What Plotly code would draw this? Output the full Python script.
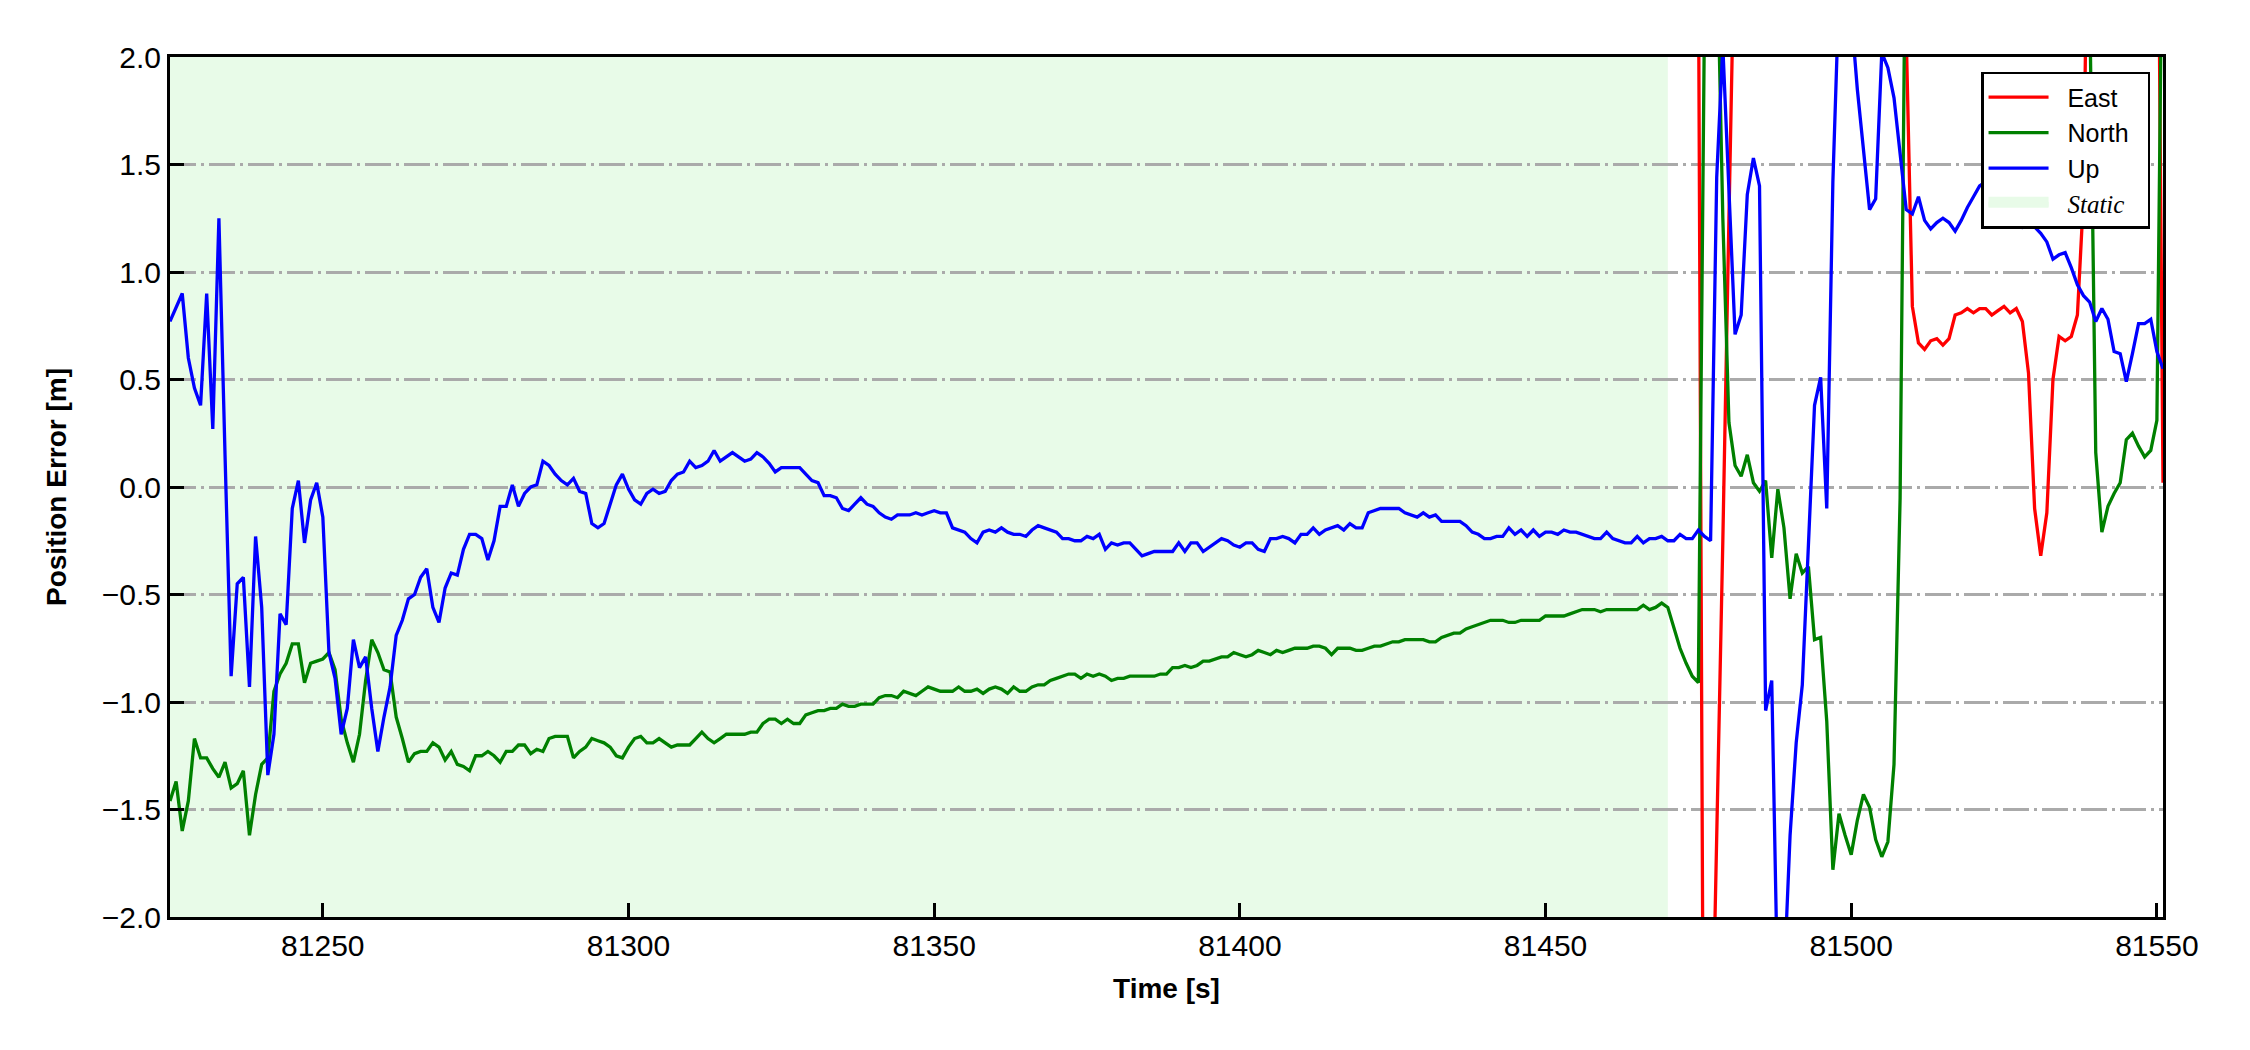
import plotly.graph_objects as go

# ---------------- data ----------------
t_start = 81225  # first epoch of North/Up series (1 s sampling)

up_err = [
    0.77, 0.84, 0.90, 0.60, 0.46, 0.38, 0.90, 0.27, 1.25, 0.15,
    -0.88, -0.45, -0.42, -0.93, -0.23, -0.56, -1.34, -1.15, -0.59, -0.64,
    -0.10, 0.03, -0.26, -0.06, 0.02, -0.14, -0.77, -0.89, -1.15, -1.03,
    -0.71, -0.84, -0.79, -1.03, -1.23, -1.07, -0.93, -0.69, -0.62, -0.52,
    -0.50, -0.42, -0.38, -0.56, -0.63, -0.47, -0.40, -0.41, -0.29, -0.22,
    -0.22, -0.24, -0.34, -0.25, -0.09, -0.09, 0.01, -0.09, -0.03, 0.00,
    0.01, 0.12, 0.10, 0.06, 0.03, 0.01, 0.04, -0.02, -0.03, -0.17,
    -0.19, -0.17, -0.08, 0.01, 0.06, -0.01, -0.06, -0.08, -0.03, -0.01,
    -0.03, -0.02, 0.03, 0.06, 0.07, 0.12, 0.09, 0.10, 0.12, 0.17,
    0.12, 0.14, 0.16, 0.14, 0.12, 0.13, 0.16, 0.14, 0.11, 0.07,
    0.09, 0.09, 0.09, 0.09, 0.06, 0.03, 0.02, -0.04, -0.04, -0.05,
    -0.10, -0.11, -0.08, -0.05, -0.08, -0.09, -0.12, -0.14, -0.15, -0.13,
    -0.13, -0.13, -0.12, -0.13, -0.12, -0.11, -0.12, -0.12, -0.19, -0.20,
    -0.21, -0.24, -0.26, -0.21, -0.20, -0.21, -0.19, -0.21, -0.22, -0.22,
    -0.23, -0.20, -0.18, -0.19, -0.20, -0.21, -0.24, -0.24, -0.25, -0.25,
    -0.23, -0.24, -0.22, -0.29, -0.26, -0.27, -0.26, -0.26, -0.29, -0.32,
    -0.31, -0.30, -0.30, -0.30, -0.30, -0.26, -0.30, -0.26, -0.26, -0.30,
    -0.28, -0.26, -0.24, -0.25, -0.27, -0.28, -0.26, -0.26, -0.29, -0.30,
    -0.24, -0.24, -0.23, -0.24, -0.26, -0.22, -0.22, -0.19, -0.22, -0.20,
    -0.19, -0.18, -0.20, -0.17, -0.19, -0.19, -0.12, -0.11, -0.10, -0.10,
    -0.10, -0.10, -0.12, -0.13, -0.14, -0.12, -0.14, -0.13, -0.16, -0.16,
    -0.16, -0.16, -0.18, -0.21, -0.22, -0.24, -0.24, -0.23, -0.23, -0.19,
    -0.22, -0.20, -0.23, -0.20, -0.23, -0.21, -0.21, -0.22, -0.20, -0.21,
    -0.21, -0.22, -0.23, -0.24, -0.24, -0.21, -0.24, -0.25, -0.26, -0.26,
    -0.23, -0.26, -0.24, -0.24, -0.23, -0.25, -0.25, -0.22, -0.24, -0.24,
    -0.20, -0.23, -0.25, 1.44, 2.05, 1.38, 0.71, 0.80, 1.36, 1.53,
    1.40, -1.04, -0.90, -2.40, -2.30, -1.62, -1.19, -0.92, -0.25, 0.38,
    0.51, -0.10, 1.42, 2.30, 2.50, 2.20, 1.85, 1.55, 1.29, 1.34,
    2.02, 1.95, 1.81, 1.55, 1.29, 1.27, 1.35, 1.24, 1.20, 1.23,
    1.25, 1.23, 1.19, 1.24, 1.30, 1.35, 1.40, 1.42, 1.38, 1.36,
    1.32, 1.29, 1.26, 1.21, 1.24, 1.21, 1.18, 1.14, 1.06, 1.08,
    1.09, 1.02, 0.94, 0.89, 0.86, 0.77, 0.83, 0.78, 0.63, 0.62,
    0.49, 0.62, 0.76, 0.76, 0.78, 0.63, 0.55,
]

north_err = [
    -1.46, -1.37, -1.60, -1.46, -1.17, -1.26, -1.26, -1.31, -1.35, -1.28,
    -1.40, -1.38, -1.32, -1.62, -1.43, -1.29, -1.26, -0.95, -0.87, -0.82,
    -0.73, -0.73, -0.91, -0.82, -0.81, -0.80, -0.77, -0.85, -1.08, -1.19,
    -1.28, -1.15, -0.90, -0.71, -0.77, -0.85, -0.86, -1.07, -1.17, -1.28,
    -1.24, -1.23, -1.23, -1.19, -1.21, -1.27, -1.23, -1.29, -1.30, -1.32,
    -1.25, -1.25, -1.23, -1.25, -1.28, -1.23, -1.23, -1.20, -1.20, -1.24,
    -1.22, -1.23, -1.17, -1.16, -1.16, -1.16, -1.26, -1.23, -1.21, -1.17,
    -1.18, -1.19, -1.21, -1.25, -1.26, -1.21, -1.17, -1.16, -1.19, -1.19,
    -1.17, -1.19, -1.21, -1.20, -1.20, -1.20, -1.17, -1.14, -1.17, -1.19,
    -1.17, -1.15, -1.15, -1.15, -1.15, -1.14, -1.14, -1.10, -1.08, -1.08,
    -1.10, -1.08, -1.10, -1.10, -1.06, -1.05, -1.04, -1.04, -1.03, -1.03,
    -1.01, -1.02, -1.02, -1.01, -1.01, -1.01, -0.98, -0.97, -0.97, -0.98,
    -0.95, -0.96, -0.97, -0.95, -0.93, -0.94, -0.95, -0.95, -0.95, -0.93,
    -0.95, -0.95, -0.94, -0.96, -0.94, -0.93, -0.94, -0.96, -0.93, -0.95,
    -0.95, -0.93, -0.92, -0.92, -0.90, -0.89, -0.88, -0.87, -0.87, -0.89,
    -0.87, -0.88, -0.87, -0.88, -0.90, -0.89, -0.89, -0.88, -0.88, -0.88,
    -0.88, -0.88, -0.87, -0.87, -0.84, -0.84, -0.83, -0.84, -0.83, -0.81,
    -0.81, -0.80, -0.79, -0.79, -0.77, -0.78, -0.79, -0.78, -0.76, -0.77,
    -0.78, -0.76, -0.77, -0.76, -0.75, -0.75, -0.75, -0.74, -0.74, -0.75,
    -0.78, -0.75, -0.75, -0.75, -0.76, -0.76, -0.75, -0.74, -0.74, -0.73,
    -0.72, -0.72, -0.71, -0.71, -0.71, -0.71, -0.72, -0.72, -0.70, -0.69,
    -0.68, -0.68, -0.66, -0.65, -0.64, -0.63, -0.62, -0.62, -0.62, -0.63,
    -0.63, -0.62, -0.62, -0.62, -0.62, -0.60, -0.60, -0.60, -0.60, -0.59,
    -0.58, -0.57, -0.57, -0.57, -0.58, -0.57, -0.57, -0.57, -0.57, -0.57,
    -0.57, -0.55, -0.57, -0.56, -0.54, -0.56, -0.65, -0.75, -0.82, -0.88,
    -0.91, 2.20, 3.50, 2.60, 1.25, 0.30, 0.10, 0.05, 0.15, 0.02,
    -0.02, 0.03, -0.33, -0.01, -0.19, -0.52, -0.31, -0.40, -0.37, -0.71,
    -0.70, -1.09, -1.78, -1.52, -1.62, -1.71, -1.55, -1.43, -1.49, -1.64,
    -1.72, -1.65, -1.29, -0.05, 3.00, 3.40, 3.80, 4.00, 4.20, 4.10,
    3.90, 3.70, 3.90, 4.20, 4.40, 4.30, 4.10, 3.80, 3.60, 3.50,
    3.70, 3.90, 4.00, 3.80, 3.60, 3.50, 3.30, 3.40, 3.20, 3.10,
    3.30, 3.40, 3.20, 3.00, 2.30, 0.16, -0.21, -0.09, -0.03, 0.02,
    0.22, 0.25, 0.19, 0.14, 0.17, 0.31, 3.00,
]

east_start = 81470  # East error leaves the +/-2 m window before this epoch
east_err = [
    2.60, 2.70, 2.90, 3.10, 3.30, 2.50, -4.00, -3.00, -1.70, -0.25,
    1.25, 2.70, 3.20, 3.60, 3.90, 4.10, 4.30, 4.20, 4.00, 3.80,
    3.90, 4.20, 4.50, 4.40, 4.10, 3.90, 3.70, 3.60, 3.80, 4.00,
    3.90, 3.70, 3.50, 3.40, 3.60, 3.50, 3.30, 3.20, 3.00, 2.10,
    0.84, 0.67, 0.64, 0.68, 0.69, 0.66, 0.69, 0.80, 0.81, 0.83,
    0.81, 0.83, 0.83, 0.80, 0.82, 0.84, 0.81, 0.83, 0.77, 0.53,
    -0.10, -0.32, -0.12, 0.50, 0.70, 0.68, 0.70, 0.80, 1.35, 3.50,
    3.60, 3.40, 3.30, 3.10, 3.00, 3.20, 3.40, 3.50, 3.60, 3.70,
    3.50, 0.02,
]

static_start = 81225
static_end = 81470

x_range = [81225, 81551]
y_range = [-2.0, 2.0]
x_ticks = [81250, 81300, 81350, 81400, 81450, 81500, 81550]
x_tick_labels = ["81250", "81300", "81350", "81400", "81450", "81500", "81550"]
y_ticks = [2.0, 1.5, 1.0, 0.5, 0.0, -0.5, -1.0, -1.5, -2.0]
y_tick_labels = ["2.0", "1.5", "1.0", "0.5", "0.0", "\u22120.5", "\u22121.0", "\u22121.5", "\u22122.0"]

# ---------------- figure ----------------
t_ne = [t_start + i for i in range(len(up_err))]
t_e = [east_start + i for i in range(len(east_err))]

LW = 3.3
STATIC_COLOR = "#e8fbe8"
NB = "\u00a0\u00a0"  # small gap between legend sample and label


def lbl(s):
    return NB + s + "\u00a0\u00a0"


fig = go.Figure()
fig.add_trace(go.Scatter(x=t_e, y=east_err, mode="lines", name=lbl("East"),
                         line=dict(color="#ff0000", width=LW), legendrank=1))
fig.add_trace(go.Scatter(x=t_ne, y=north_err, mode="lines", name=lbl("North"),
                         line=dict(color="#008000", width=LW), legendrank=2))
fig.add_trace(go.Scatter(x=t_ne, y=up_err, mode="lines", name=lbl("Up"),
                         line=dict(color="#0000ff", width=LW), legendrank=3))

# static period shading (drawn beneath grid and data)
fig.add_vrect(x0=static_start, x1=static_end, fillcolor=STATIC_COLOR,
              line_width=0, layer="below")
# legend entry for the static period
fig.add_trace(go.Scatter(
    x=[None], y=[None], mode="lines", fill="toself", fillcolor=STATIC_COLOR,
    line=dict(color=STATIC_COLOR, width=10), legendrank=4,
    name=NB + "<i><span style='font-family:Liberation Serif, Times New Roman, serif'>Static</span></i>",
    hoverinfo="skip"))

FONT = "Liberation Sans, Arial, Helvetica, sans-serif"
fig.update_layout(
    width=2250, height=1050,
    margin=dict(l=170, r=87, t=57, b=133, pad=0),
    paper_bgcolor="white", plot_bgcolor="white",
    font=dict(family=FONT, size=30, color="black"),
    showlegend=True,
    legend=dict(x=0.9935, y=0.9826, xanchor="right", yanchor="top",
                bgcolor="white", bordercolor="black", borderwidth=2.5,
                font=dict(family=FONT, size=25, color="black"),
                itemwidth=60, tracegroupgap=0, traceorder="normal"),
)

fig.update_xaxes(
    range=x_range, tickvals=x_ticks, ticktext=x_tick_labels,
    ticks="inside", ticklen=14, tickwidth=3, tickcolor="black",
    showline=True, linewidth=3, linecolor="black", mirror=True,
    showgrid=False, zeroline=False,
    tickfont=dict(family=FONT, size=30, color="black"),
    title=dict(text="Time [s]", font=dict(family=FONT, size=28, color="black", weight="bold"), standoff=18),
)
fig.update_yaxes(
    range=y_range, tickvals=y_ticks, ticktext=y_tick_labels,
    ticks="inside", ticklen=14, tickwidth=3, tickcolor="black",
    showline=True, linewidth=3, linecolor="black", mirror=True,
    showgrid=True, gridcolor="#aaaaaa", gridwidth=2.5, griddash="26px,5px,3px,5px",
    zeroline=False,
    tickfont=dict(family=FONT, size=30, color="black"),
    title=dict(text="Position Error [m]", font=dict(family=FONT, size=28, color="black", weight="bold"), standoff=27),
)

fig.write_html("out.html", config={"displayModeBar": False},
               post_script="document.body.style.margin='0';")
